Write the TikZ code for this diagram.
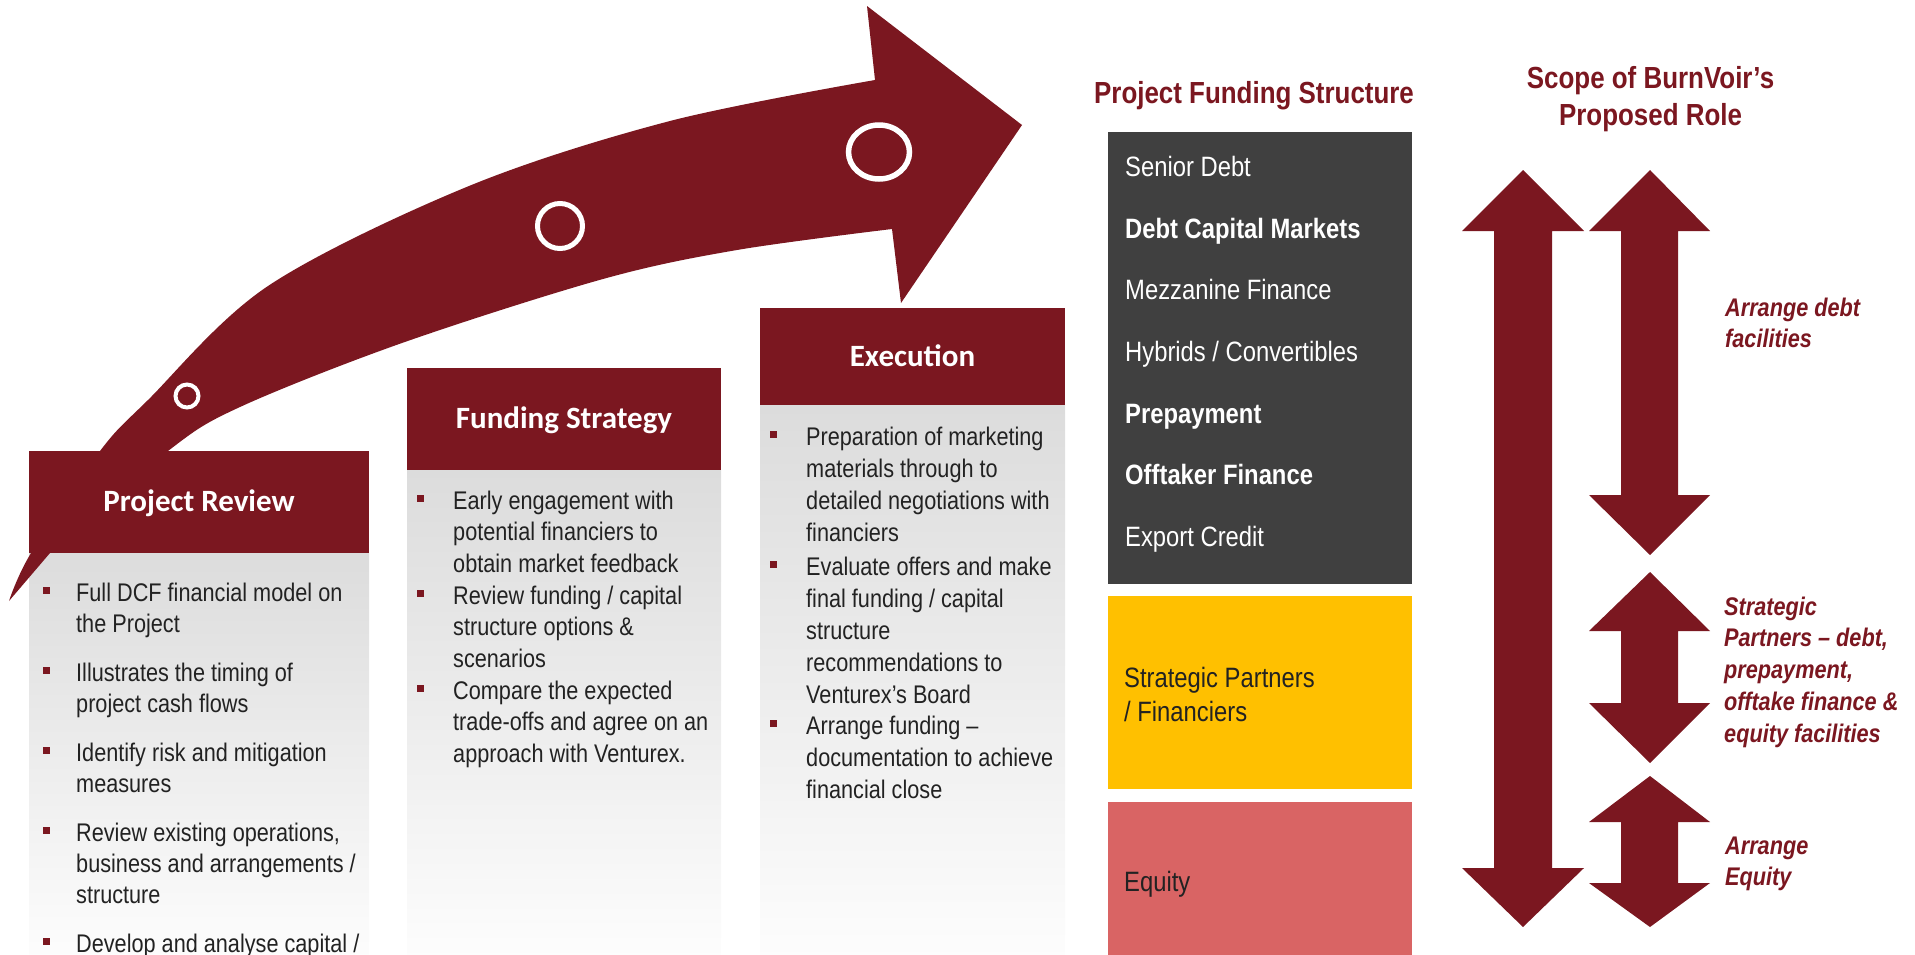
\documentclass[tikz,border=0pt]{standalone}
\usepackage{fontspec}
\setmainfont{Liberation Sans}[FakeStretch=0.85]
\newfontfamily\calibrifont{Carlito}
\definecolor{wine}{RGB}{123,23,32}
\definecolor{slate}{RGB}{64,64,64}
\definecolor{amber}{RGB}{255,192,0}
\definecolor{salmon}{RGB}{217,100,100}
\definecolor{ink}{RGB}{34,34,34}
\definecolor{cardtop}{RGB}{220,220,220}
\definecolor{cardbot}{RGB}{253,253,253}
% multi-line text nodes are anchored on the baseline of their last line
\tikzset{
  hdrbox/.style={fill=wine, inner sep=0, anchor=north west},
  blockbox/.style={inner sep=0, anchor=north west, minimum width=304},
  hdrtext/.style={anchor=base, text=white, inner sep=0,
    font=\calibrifont\bfseries\fontsize{31}{36}\selectfont},
  prtext/.style={anchor=base west, text=ink, inner sep=0, align=left,
    font=\fontsize{25.5}{31}\selectfont},
  fstext/.style={prtext, font=\fontsize{25.5}{31.75}\selectfont},
  extext/.style={prtext, font=\fontsize{25.5}{32.1}\selectfont},
  bulletsq/.style={fill=wine, inner sep=0, minimum size=7},
  itemtext/.style={anchor=base west, text=white, inner sep=0,
    font=\fontsize{28}{34}\selectfont},
  itembold/.style={itemtext, font=\fontsize{28}{34}\selectfont\bfseries},
  darktext/.style={anchor=base west, text=ink, inner sep=0, align=left,
    font=\fontsize{28}{34}\selectfont},
  coltitle/.style={anchor=base, text=wine, inner sep=0, align=center,
    font=\fontsize{30.5}{37}\selectfont\bfseries},
  rolelabel/.style={anchor=base west, text=wine, inner sep=0, align=left,
    font=\fontsize{25.5}{31.8}\selectfont\bfseries\itshape},
  ring/.style={draw=white, line width=5}
}
\begin{document}
\begin{tikzpicture}[x=1pt,y=-1pt]
\useasboundingbox (0,0) rectangle (1915,954);

% card bodies with a fading grey fill
\shade[top color=cardtop, bottom color=cardbot] (29,553) rectangle (369,960);
\shade[top color=cardtop, bottom color=cardbot] (407,470) rectangle (721,960);
\shade[top color=cardtop, bottom color=cardbot] (760,405) rectangle (1065,960);

% curved progress arrow
\fill[wine] plot[smooth, tension=0.55] coordinates
    {(9,601) (31,553) (100,451) (148,400) (268,286) (469,186) (670,121) (875,80)}
  -- (867,6) -- (1022,125) -- (901,303) -- (892,229)
  -- plot[smooth, tension=0.55] coordinates
    {(892,229) (737,250) (603,279) (402,343) (240,407) (168,451) (50,553)}
  -- cycle;

% milestone rings on the arrow
\draw[ring, line width=4] (187,396) circle[radius=11.5];
\draw[ring] (560,226) circle[radius=22.5];
\draw[ring, line width=5.5] (879,152) ellipse[x radius=30.5, y radius=27];

% card headers
\node[hdrbox, minimum width=340, minimum height=102] (prh) at (29,451) {};
\node[hdrbox, minimum width=314, minimum height=102] (fsh) at (407,368) {};
\node[hdrbox, minimum width=305, minimum height=97] (exh) at (760,308) {};
\node[hdrtext] (prt) at (199,511.5) {Project Review};
\node[hdrtext] (fst) at (564,428.5) {Funding Strategy};
\node[hdrtext] (ext) at (912.5,366) {Execution};

% Project Review bullets
\node[bulletsq] (prb1) at (46,590) {};
\node[prtext] (pr1) at (76,632) {Full DCF financial model on\\the Project};
\node[bulletsq] (prb2) at (46,670) {};
\node[prtext] (pr2) at (76,712) {Illustrates the timing of\\project cash flows};
\node[bulletsq] (prb3) at (46,750) {};
\node[prtext] (pr3) at (76,792) {Identify risk and mitigation\\measures};
\node[bulletsq] (prb4) at (46,830) {};
\node[prtext] (pr4) at (76,903) {Review existing operations,\\business and arrangements /\\structure};
\node[bulletsq] (prb5) at (46,941) {};
\node[prtext] (pr5) at (76,952) {Develop and analyse capital /};

% Funding Strategy bullets
\node[bulletsq] (fsb1) at (420,498) {};
\node[fstext] (fs1) at (453,572.5) {Early engagement with\\potential financiers to\\obtain market feedback};
\node[bulletsq] (fsb2) at (420,593) {};
\node[fstext] (fs2) at (453,667.5) {Review funding / capital\\structure options \&\\scenarios};
\node[bulletsq] (fsb3) at (420,688) {};
\node[fstext] (fs3) at (453,762.5) {Compare the expected\\trade-offs and agree on an\\approach with Venturex.};

% Execution bullets
\node[bulletsq] (exb1) at (773,434) {};
\node[extext] (ex1) at (806,541.3) {Preparation of marketing\\materials through to\\detailed negotiations with\\financiers};
\node[bulletsq] (exb2) at (773,564) {};
\node[extext] (ex2) at (806,703.4) {Evaluate offers and make\\final funding / capital\\structure\\recommendations to\\Venturex’s Board};
\node[bulletsq] (exb3) at (773,723) {};
\node[extext] (ex3) at (806,798.2) {Arrange funding –\\documentation to achieve\\financial close};

% funding structure stack
\node[coltitle] (pfs) at (1254,103) {Project Funding Structure};
\node[blockbox, fill=slate, minimum height=452] (debt) at (1108,132) {};
\node[blockbox, fill=amber, minimum height=193] (partners) at (1108,596) {};
\node[blockbox, fill=salmon, minimum height=160] (equity) at (1108,802) {};
\node[itemtext] (d1) at (1125,176) {Senior Debt};
\node[itembold] (d2) at (1125,238) {Debt Capital Markets};
\node[itemtext] (d3) at (1125,299) {Mezzanine Finance};
\node[itemtext] (d4) at (1125,361) {Hybrids / Convertibles};
\node[itembold] (d5) at (1125,423) {Prepayment};
\node[itembold] (d6) at (1125,484) {Offtaker Finance};
\node[itemtext] (d7) at (1125,546) {Export Credit};
\node[darktext] (sp) at (1124,721) {Strategic Partners\\/ Financiers};
\node[darktext] (eq) at (1124,891) {Equity};

% scope of role
\node[coltitle] (scope) at (1650.5,125) {Scope of BurnVoir’s\\Proposed Role};
\fill[wine] (1523,170) -- (1584,231) -- (1552,231) -- (1552,868) -- (1584,868)
  -- (1523,927) -- (1462,868) -- (1494,868) -- (1494,231) -- (1462,231) -- cycle;
\fill[wine] (1650,170) -- (1710,231) -- (1678,231) -- (1678,495) -- (1710,495)
  -- (1650,555) -- (1589,495) -- (1621,495) -- (1621,231) -- (1589,231) -- cycle;
\fill[wine] (1650,572) -- (1710,631) -- (1678,631) -- (1678,703) -- (1710,703)
  -- (1650,763) -- (1589,703) -- (1621,703) -- (1621,631) -- (1589,631) -- cycle;
\fill[wine] (1650,776) -- (1710,822) -- (1678,822) -- (1678,883) -- (1710,883)
  -- (1650,927) -- (1589,883) -- (1621,883) -- (1621,822) -- (1589,822) -- cycle;
\node[rolelabel] (r1) at (1725,347.8) {Arrange debt\\facilities};
\node[rolelabel] (r2) at (1724,742.2) {Strategic\\Partners – debt,\\prepayment,\\offtake finance \&\\equity facilities};
\node[rolelabel] (r3) at (1725,885.8) {Arrange\\Equity};
\end{tikzpicture}
\end{document}
